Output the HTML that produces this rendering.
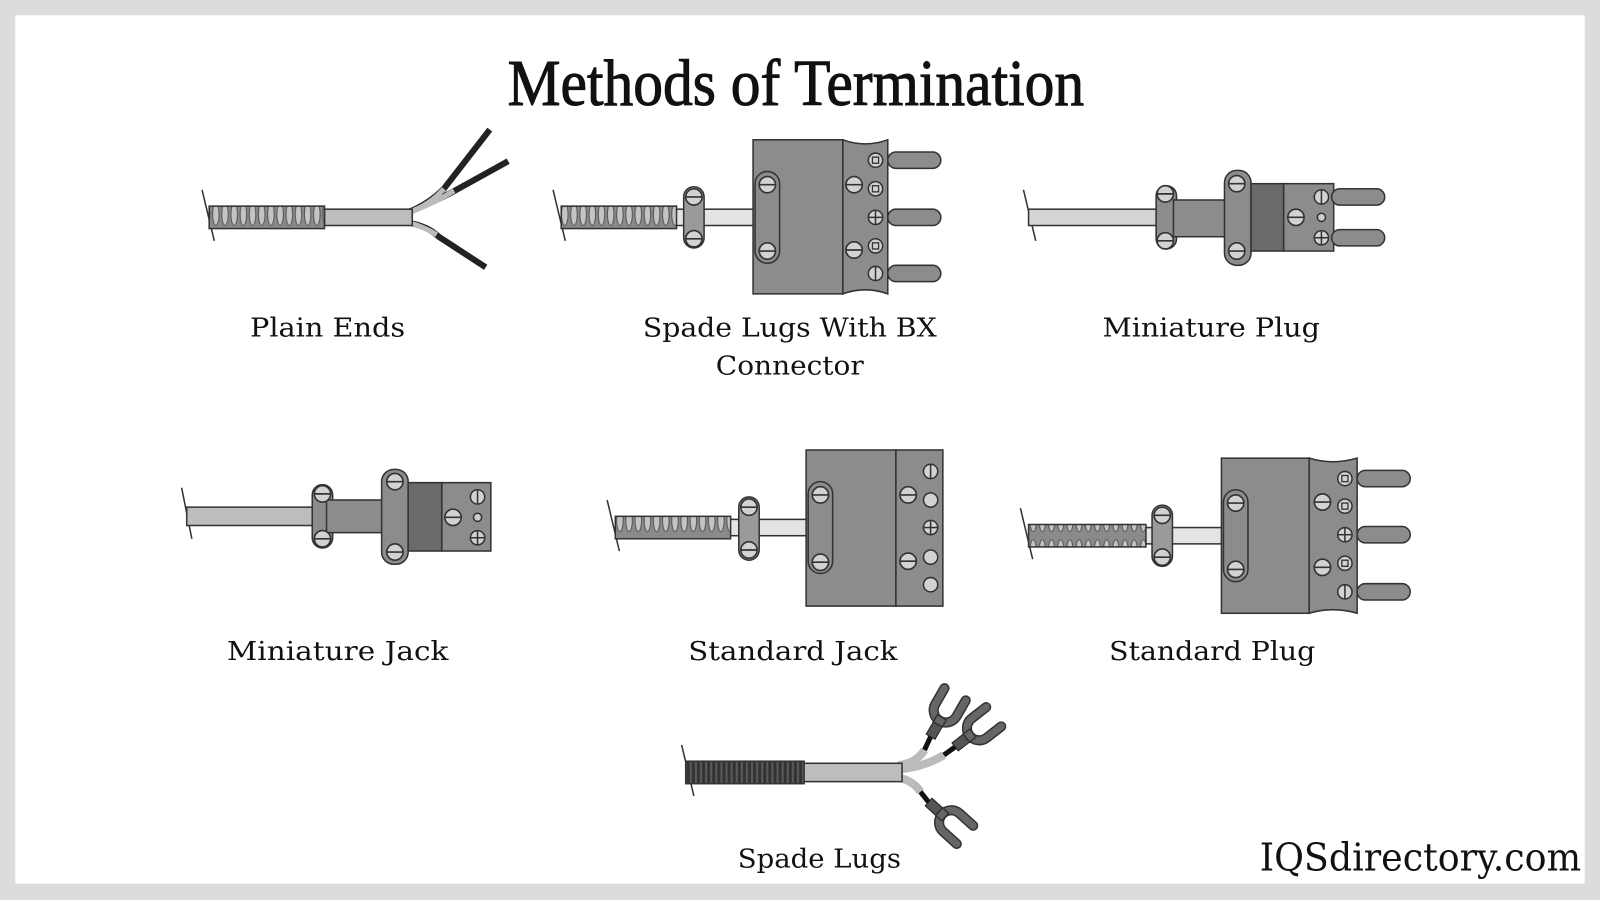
<!DOCTYPE html>
<html><head><meta charset="utf-8"><style>html,body{margin:0;padding:0;background:#fff}svg{display:block}</style></head>
<body>
<svg width="1600" height="900" viewBox="0 0 1568 882" preserveAspectRatio="none" xmlns="http://www.w3.org/2000/svg">
<defs>
<pattern id="sp" width="9" height="30" patternUnits="userSpaceOnUse" y="-15">
<rect width="9" height="30" fill="#8a8a8a"/>
<ellipse cx="4.5" cy="15" rx="3.2" ry="11" fill="#c4c4c4" stroke="#555" stroke-width="1"/>
</pattern>
<pattern id="spd" width="5" height="30" patternUnits="userSpaceOnUse">
<rect width="5" height="30" fill="#333"/><rect x="1" width="2" height="30" fill="#5a5a5a"/>
</pattern>
<g id="scr"><circle r="8" fill="#d2d2d2" stroke="#333" stroke-width="1.6"/><line x1="-8" y1="0" x2="8" y2="0" stroke="#333" stroke-width="1.6"/></g>
<g id="scrs"><circle r="7" fill="#d2d2d2" stroke="#333" stroke-width="1.5"/><rect x="-3" y="-3" width="6" height="6" fill="none" stroke="#333" stroke-width="1.3"/></g>
<g id="scrp"><circle r="7" fill="#d2d2d2" stroke="#333" stroke-width="1.5"/><line x1="-7" y1="0" x2="7" y2="0" stroke="#333" stroke-width="1.5"/><line x1="0" y1="-7" x2="0" y2="7" stroke="#333" stroke-width="1.5"/></g>
<g id="scrv"><circle r="7" fill="#d2d2d2" stroke="#333" stroke-width="1.5"/><line x1="0" y1="-7" x2="0" y2="7" stroke="#333" stroke-width="1.5"/></g>
<g id="pin"><rect x="0" y="-8" width="52" height="16" rx="8" fill="#8c8c8c" stroke="#333" stroke-width="1.5"/></g>
<g id="fork">
<rect x="0" y="-5" width="16" height="10" fill="#555" stroke="#222" stroke-width="1"/>
<path d="M48,-12 L30,-12 A12,12 0 0 0 30,12 L48,12" stroke="#333" stroke-width="10" fill="none" stroke-linecap="round"/>
<path d="M48,-12 L30,-12 A12,12 0 0 0 30,12 L48,12" stroke="#666" stroke-width="7" fill="none" stroke-linecap="round"/>
<rect x="14" y="-5" width="8" height="10" fill="#666"/>
</g>
</defs>
<rect width="1568" height="882" fill="#dcdcdc"/>
<rect x="15" y="15" width="1538" height="851" fill="#fff"/>
<text x="780" y="103" text-anchor="middle" font-family="Liberation Serif, serif" font-size="64" textLength="565" lengthAdjust="spacingAndGlyphs" fill="#111" stroke="#111" stroke-width="1">Methods of Termination</text>

<!-- Plain Ends -->
<g stroke="#333" stroke-width="1.5">
<line x1="198" y1="186" x2="210" y2="236"/>
<path d="M400 208 Q420 200 435 185 L480 127" stroke="#222" stroke-width="6" fill="none"/>
<path d="M400 208 Q420 200 440 190 L498 158" stroke="#222" stroke-width="6" fill="none"/>
<path d="M400 218 Q420 222 430 232 L476 262" stroke="#222" stroke-width="6" fill="none"/>
<path d="M400 208 Q420 202 435 185" stroke="#bbb" stroke-width="5" fill="none"/>
<path d="M400 208 Q420 202 445 187" stroke="#bbb" stroke-width="5" fill="none"/>
<path d="M400 218 Q415 222 428 230" stroke="#bbb" stroke-width="5" fill="none"/>
<rect x="318" y="205" width="86" height="16" fill="#bdbdbd"/>
<rect x="205" y="202" width="113" height="22" fill="url(#sp)"/>
</g>

<!-- Spade lugs with BX -->
<g stroke="#333" stroke-width="1.5">
<line x1="542" y1="186" x2="554" y2="236"/>
<rect x="660" y="205" width="80" height="16" fill="#e4e4e4"/>
<rect x="550" y="202" width="113" height="22" fill="url(#sp)"/>
<rect x="670" y="183" width="20" height="60" rx="10" fill="#9a9a9a"/>
<use href="#scr" x="680" y="193"/><use href="#scr" x="680" y="234"/>
<rect x="738" y="137" width="88" height="151" fill="#8c8c8c"/>
<path d="M826 137 Q848 145 870 137 L870 288 Q848 280 826 288 Z" fill="#8c8c8c"/>
<rect x="740" y="168" width="24" height="90" rx="12" fill="#8c8c8c"/>
<use href="#scr" x="752" y="181"/><use href="#scr" x="752" y="246"/>
<use href="#pin" x="870" y="157"/><use href="#pin" x="870" y="213"/><use href="#pin" x="870" y="268"/>
<use href="#scr" x="837" y="181"/><use href="#scr" x="837" y="245"/>
<use href="#scrs" x="858" y="157"/><use href="#scrs" x="858" y="185"/><use href="#scrp" x="858" y="213"/><use href="#scrs" x="858" y="241"/><use href="#scrv" x="858" y="268"/>
</g>

<!-- Miniature Plug -->
<g stroke="#333" stroke-width="1.5">
<line x1="1003" y1="186" x2="1015" y2="236"/>
<rect x="1008" y="205" width="130" height="16" fill="#d5d5d5"/>
<rect x="1133" y="182" width="20" height="62" rx="10" fill="#8c8c8c"/>
<rect x="1150" y="196" width="55" height="36" fill="#8c8c8c"/>
<rect x="1200" y="167" width="26" height="93" rx="12" fill="#8c8c8c"/>
<rect x="1226" y="180" width="32" height="66" fill="#6a6a6a"/>
<rect x="1258" y="180" width="49" height="66" fill="#8c8c8c"/>
<use href="#pin" x="1305" y="193"/><use href="#pin" x="1305" y="233"/>
<use href="#scr" x="1142" y="190"/><use href="#scr" x="1142" y="236"/><use href="#scr" x="1212" y="180"/><use href="#scr" x="1212" y="246"/>
<use href="#scr" x="1270" y="213"/><use href="#scrv" x="1295" y="193"/><circle cx="1295" cy="213" r="4" fill="#ccc"/><use href="#scrp" x="1295" y="233"/>
</g>

<!-- Miniature Jack -->
<g stroke="#333" stroke-width="1.5">
<line x1="178" y1="478" x2="188" y2="528"/>
<rect x="183" y="497" width="130" height="18" fill="#bdbdbd"/>
<rect x="306" y="475" width="20" height="62" rx="10" fill="#8c8c8c"/>
<rect x="320" y="490" width="60" height="32" fill="#8c8c8c"/>
<rect x="374" y="460" width="26" height="93" rx="12" fill="#8c8c8c"/>
<rect x="400" y="473" width="33" height="67" fill="#6a6a6a"/>
<rect x="433" y="473" width="48" height="67" fill="#8c8c8c"/>
<use href="#scr" x="316" y="484"/><use href="#scr" x="316" y="528"/><use href="#scr" x="387" y="472"/><use href="#scr" x="387" y="541"/>
<use href="#scr" x="444" y="507"/><use href="#scrv" x="468" y="487"/><circle cx="468" cy="507" r="4" fill="#ccc"/><use href="#scrp" x="468" y="527"/>
</g>

<!-- Standard Jack -->
<g stroke="#333" stroke-width="1.5">
<line x1="595" y1="490" x2="607" y2="540"/>
<rect x="715" y="509" width="78" height="16" fill="#e4e4e4"/>
<rect x="603" y="506" width="113" height="22" fill="url(#sp)"/>
<rect x="724" y="487" width="20" height="62" rx="10" fill="#9a9a9a"/>
<use href="#scr" x="734" y="497"/><use href="#scr" x="734" y="539"/>
<rect x="790" y="441" width="88" height="153" fill="#8c8c8c"/>
<rect x="878" y="441" width="46" height="153" fill="#8c8c8c"/>
<rect x="792" y="472" width="24" height="90" rx="12" fill="#8c8c8c"/>
<use href="#scr" x="804" y="485"/><use href="#scr" x="804" y="551"/>
<use href="#scr" x="890" y="485"/><use href="#scr" x="890" y="550"/>
<use href="#scrv" x="912" y="462"/><circle cx="912" cy="490" r="7" fill="#d2d2d2"/><use href="#scrp" x="912" y="517"/><circle cx="912" cy="546" r="7" fill="#d2d2d2"/><circle cx="912" cy="573" r="7" fill="#d2d2d2"/>
</g>

<!-- Standard Plug -->
<g stroke="#333" stroke-width="1.5">
<line x1="1000" y1="498" x2="1012" y2="548"/>
<rect x="1122" y="517" width="78" height="16" fill="#e4e4e4"/>
<rect x="1008" y="514" width="115" height="22" fill="url(#sp)"/>
<rect x="1129" y="495" width="20" height="60" rx="10" fill="#9a9a9a"/>
<use href="#scr" x="1139" y="505"/><use href="#scr" x="1139" y="546"/>
<rect x="1197" y="449" width="86" height="152" fill="#8c8c8c"/>
<path d="M1283 449 Q1306 456 1330 449 L1330 601 Q1306 594 1283 601 Z" fill="#8c8c8c"/>
<rect x="1199" y="480" width="24" height="90" rx="12" fill="#8c8c8c"/>
<use href="#scr" x="1211" y="493"/><use href="#scr" x="1211" y="558"/>
<use href="#pin" x="1330" y="469"/><use href="#pin" x="1330" y="524"/><use href="#pin" x="1330" y="580"/>
<use href="#scr" x="1296" y="492"/><use href="#scr" x="1296" y="556"/>
<use href="#scrs" x="1318" y="469"/><use href="#scrs" x="1318" y="496"/><use href="#scrp" x="1318" y="524"/><use href="#scrs" x="1318" y="552"/><use href="#scrv" x="1318" y="580"/>
</g>

<!-- Spade Lugs -->
<g stroke="#333" stroke-width="1.5">
<line x1="668" y1="730" x2="680" y2="780"/>
<path d="M880 750 Q898 748 906 735" stroke="#bbb" stroke-width="8" fill="none"/>
<path d="M880 754 Q905 752 925 740" stroke="#bbb" stroke-width="8" fill="none"/>
<path d="M880 762 Q895 765 902 776" stroke="#bbb" stroke-width="8" fill="none"/>
<line x1="906" y1="735" x2="912" y2="722" stroke="#111" stroke-width="5"/>
<line x1="925" y1="740" x2="936" y2="732" stroke="#111" stroke-width="5"/>
<line x1="902" y1="776" x2="910" y2="786" stroke="#111" stroke-width="5"/>
<use href="#fork" transform="translate(912,722) rotate(-60)"/>
<use href="#fork" transform="translate(936,732) rotate(-38)"/>
<use href="#fork" transform="translate(910,786) rotate(42)"/>
<rect x="786" y="748" width="98" height="18" fill="#bdbdbd"/>
<rect x="672" y="746" width="116" height="22" fill="url(#spd)"/>
</g>

<g font-family="DejaVu Serif, Liberation Serif, serif" font-size="26" fill="#111" text-anchor="middle">
<text x="321" y="330" textLength="152" lengthAdjust="spacingAndGlyphs">Plain Ends</text>
<text x="774" y="330" textLength="288" lengthAdjust="spacingAndGlyphs">Spade Lugs With BX</text>
<text x="774" y="367" textLength="145" lengthAdjust="spacingAndGlyphs">Connector</text>
<text x="1187" y="330" textLength="213" lengthAdjust="spacingAndGlyphs">Miniature Plug</text>
<text x="331" y="647" textLength="217" lengthAdjust="spacingAndGlyphs">Miniature Jack</text>
<text x="777" y="647" textLength="205" lengthAdjust="spacingAndGlyphs">Standard Jack</text>
<text x="1188" y="647" textLength="202" lengthAdjust="spacingAndGlyphs">Standard Plug</text>
<text x="803" y="850" textLength="160" lengthAdjust="spacingAndGlyphs">Spade Lugs</text>
</g>
<text x="1392" y="853" text-anchor="middle" font-family="DejaVu Serif, Liberation Serif, serif" font-size="38" fill="#111" textLength="315" lengthAdjust="spacingAndGlyphs">IQSdirectory.com</text>
</svg>
</body></html>
